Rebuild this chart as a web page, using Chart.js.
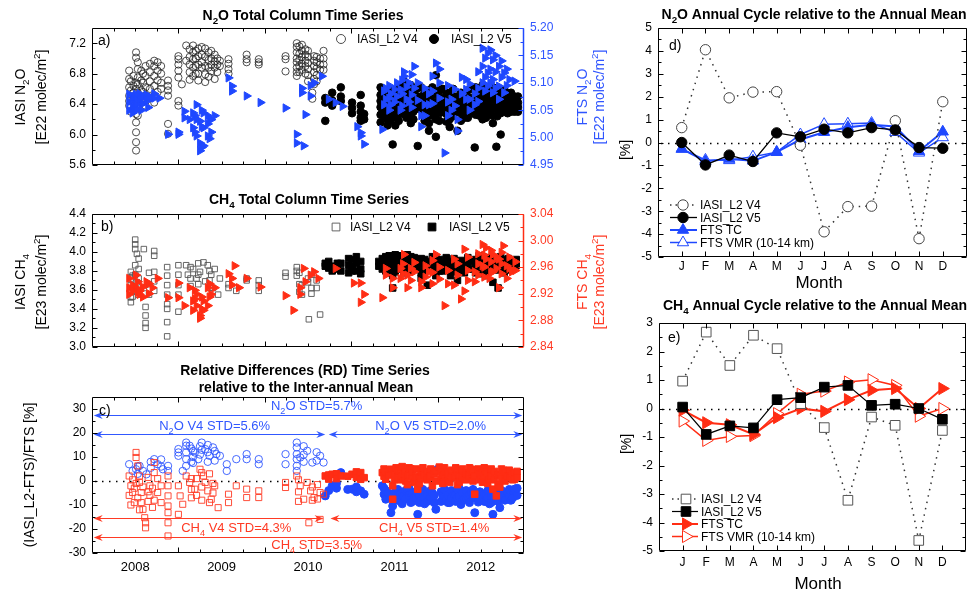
<!DOCTYPE html>
<html>
<head>
<meta charset="utf-8">
<title>IASI / FTS N2O and CH4</title>
<script src="https://cdn.jsdelivr.net/npm/chart.js@4.4.1/dist/chart.umd.min.js"></script>
<style>
  body { margin: 0; background: #fff; }
  #page { position: relative; width: 974px; height: 594px; overflow: hidden; }
  canvas { position: absolute; }
</style>
</head>
<body>
<div id="page">
  <canvas id="chartA" width="610" height="182" style="left:0;top:0"></canvas>
  <canvas id="chartB" width="610" height="178" style="left:0;top:182px"></canvas>
  <canvas id="chartC" width="610" height="234" style="left:0;top:360px"></canvas>
  <canvas id="chartD" width="384" height="295" style="left:590px;top:0"></canvas>
  <canvas id="chartE" width="384" height="299" style="left:590px;top:295px"></canvas>
</div>
<script>
// ---- data: each row is [decimal year, value, value, ...] ----
const iasiN2oV4 = [
  [2007.93, 6.84, 6.73, 6.62, 6.51, 6.44, 6.38], [2007.95, 6.70, 6.58, 6.47, 6.30],
  [2007.98, 6.77, 6.64, 6.55, 6.47, 6.33],
  [2008.01, 7.08, 7.01, 6.68, 6.60, 6.47, 6.38, 6.27, 6.16, 6.03, 5.90, 5.79],
  [2008.03, 6.95, 6.86, 6.75, 6.66, 6.55, 6.45, 6.35, 6.25],
  [2008.07, 6.84, 6.71, 6.58, 6.42], [2008.09, 6.80, 6.68, 6.56, 6.46], [2008.12, 6.90, 6.77, 6.62, 6.51, 6.38],
  [2008.17, 6.93, 6.82, 6.70, 6.60, 6.48],
  [2008.22, 6.97, 6.90, 6.77, 6.64, 6.51, 6.42], [2008.26, 6.95, 6.84, 6.71, 6.56], [2008.30, 6.90, 6.80, 6.68, 6.60],
  [2008.38, 6.71, 6.64, 6.58, 6.51, 6.14, 6.01], [2008.50, 7.03, 6.99, 6.92, 6.84, 6.75, 6.44, 6.38],
  [2008.54, 6.66], [2008.59, 7.17, 6.97], [2008.63, 7.12, 7.02, 6.92, 6.82, 6.72], [2008.67, 7.17, 7.08, 6.99, 6.88, 6.77],
  [2008.70, 7.10, 7.00, 6.90, 6.80],
  [2008.73, 7.13, 7.03, 6.92, 6.80, 6.71], [2008.77, 7.15, 7.05, 6.95, 6.88],
  [2008.81, 7.13, 7.02, 6.90, 6.79, 6.69], [2008.85, 7.08, 6.98, 6.88, 6.76], [2008.88, 7.10, 7.00, 6.92, 6.83],
  [2008.92, 7.05, 6.96, 6.88, 6.73], [2008.95, 7.00, 6.92, 6.82], [2008.98, 6.97, 6.90], [2009.08, 6.99, 6.93, 6.86, 6.80],
  [2009.29, 7.05, 6.99, 6.95], [2009.43, 6.99, 6.95, 6.92], [2009.74, 7.03, 6.99, 6.83],
  [2009.87, 7.20, 7.15, 7.08, 7.00, 6.95, 6.88, 6.82, 6.77], [2009.90, 7.16, 7.06, 6.98, 6.90, 6.82],
  [2009.93, 7.18, 7.10, 7.02, 6.93, 6.85],
  [2009.97, 7.12, 7.05, 6.97, 6.90, 6.80], [2010.00, 7.10, 7.02, 6.94, 6.86, 6.78, 6.70], [2010.05, 6.55, 6.47],
  [2010.07, 7.03, 6.97, 6.90, 6.82, 6.73, 6.66], [2010.10, 7.02, 6.95, 6.87, 6.78, 6.70], [2010.14, 7.00, 6.92, 6.85],
  [2010.18, 7.10, 7.00, 6.92, 6.85]
];
const iasiN2oV5 = [
  [2010.20, 6.48, 6.42, 6.18], [2010.28, 6.55, 6.45, 6.38], [2010.38, 6.62, 6.50, 6.44],
  [2010.51, 6.42, 6.35, 6.28], [2010.61, 6.52, 6.38, 6.30, 6.22, 6.18], [2010.65, 6.27, 6.20],
  [2010.84, 6.62, 6.52, 6.44, 6.36, 6.26, 6.16], [2010.86, 6.55, 6.45, 6.35, 6.28], [2010.88, 6.58, 6.48, 6.40, 6.32, 6.24],
  [2010.92, 6.50, 6.40, 6.30, 6.20, 6.12], [2010.95, 6.60, 6.50, 6.42, 6.34, 6.26, 6.18],
  [2010.98, 6.58, 6.45, 6.35, 6.22, 5.87], [2011.01, 6.55, 6.47, 6.39, 6.31, 6.23, 6.12], [2011.05, 6.60, 6.48, 6.38, 6.28, 6.18],
  [2011.08, 6.62, 6.52, 6.44, 6.36, 6.27],
  [2011.11, 6.70, 6.60, 6.50, 6.40, 6.30], [2011.14, 6.58, 6.48, 6.40, 6.32, 6.22], [2011.19, 6.65, 6.52, 6.42, 6.30, 6.25, 6.15],
  [2011.22, 6.56, 6.46, 6.38, 6.30, 6.20], [2011.26, 6.60, 6.50, 6.42, 6.34],
  [2011.27, 5.85], [2011.31, 6.62, 6.50, 6.40, 6.33], [2011.35, 6.55, 6.46, 6.37, 6.28, 6.18],
  [2011.40, 6.58, 6.45, 6.30, 6.25, 6.15, 6.05], [2011.44, 6.62, 6.52, 6.43, 6.35, 6.25],
  [2011.48, 6.78, 6.55, 6.42, 6.33, 6.20, 5.97], [2011.52, 6.58, 6.48, 6.38, 6.28, 6.18], [2011.56, 6.60, 6.48, 6.40, 6.30],
  [2011.60, 6.55, 6.45, 6.36, 6.27, 6.17],
  [2011.64, 6.55, 6.45, 6.35, 6.28, 6.20, 6.10], [2011.68, 6.60, 6.50, 6.40, 6.32, 6.24], [2011.73, 6.50, 6.40, 6.30, 6.05],
  [2011.77, 6.55, 6.46, 6.37, 6.28, 6.18],
  [2011.81, 6.45, 6.35, 6.30, 6.22], [2011.85, 6.58, 6.48, 6.40, 6.31, 6.22], [2011.89, 6.60, 6.48, 6.38, 6.28], [2011.93, 5.83],
  [2011.94, 6.62, 6.52, 6.43, 6.35, 6.26],
  [2011.98, 6.55, 6.45, 6.35, 6.25], [2012.02, 6.65, 6.55, 6.46, 6.38, 6.30, 6.20], [2012.06, 6.60, 6.50, 6.40, 6.32, 6.22],
  [2012.10, 6.62, 6.52, 6.44, 6.36, 6.27],
  [2012.14, 6.62, 6.55, 6.45, 6.35, 6.25, 6.15], [2012.18, 5.84], [2012.19, 6.60, 6.50, 6.42, 6.33, 6.24],
  [2012.23, 6.58, 6.48, 6.38, 6.28, 6.00], [2012.27, 6.58, 6.48, 6.40, 6.32], [2012.31, 6.55, 6.45, 6.35, 6.28],
  [2012.35, 6.55, 6.46, 6.38, 6.30],
  [2012.39, 6.50, 6.42, 6.35, 6.30], [2012.43, 6.50, 6.42, 6.36, 6.30]
];
const ftsN2o = [
  [2007.93, 5.079, 5.065, 5.050], [2007.97, 5.070, 5.057, 5.045], [2007.99, 5.075, 5.055], [2008.01, 5.079, 5.070, 5.060, 5.050],
  [2008.05, 5.080, 5.065], [2008.07, 5.072, 5.050], [2008.09, 5.075, 5.062], [2008.13, 5.078, 5.070], [2008.15, 5.068, 5.055],
  [2008.17, 5.075],
  [2008.22, 5.080, 5.072], [2008.28, 5.072], [2008.38, 5.006], [2008.50, 5.006, 5.010],
  [2008.57, 5.036, 5.048], [2008.63, 5.033], [2008.67, 5.045, 5.018], [2008.69, 5.040, 5.010], [2008.71, 5.060, 5.033, 5.003],
  [2008.75, 5.030, 4.990, 4.976], [2008.77, 5.050, 5.020, 4.982], [2008.79, 5.045, 5.018, 4.985], [2008.84, 5.040, 5.025, 5.003],
  [2008.86, 5.035, 4.998],
  [2008.88, 5.033, 5.010], [2008.92, 5.040], [2009.08, 5.109], [2009.12, 5.094, 5.085],
  [2009.29, 5.076], [2009.45, 5.064], [2009.74, 5.054], [2009.87, 5.006, 4.990], [2009.95, 4.985],
  [2009.97, 5.042], [2009.93, 5.090, 5.082], [2010.03, 5.076, 5.095], [2010.07, 5.100],
  [2010.16, 5.112], [2010.24, 5.070], [2010.32, 5.064], [2010.40, 5.057], [2010.57, 5.020],
  [2010.61, 5.009, 5.003], [2010.65, 4.988], [2010.86, 5.015], [2010.88, 5.085, 5.060], [2010.90, 5.090, 5.070],
  [2010.94, 5.095, 5.072, 5.050],
  [2010.96, 5.080, 5.060], [2011.00, 5.088, 5.065], [2011.03, 5.100, 5.075], [2011.07, 5.088, 5.050],
  [2011.09, 5.105, 5.080, 5.058], [2011.11, 5.112, 5.120], [2011.14, 5.092, 5.070],
  [2011.17, 5.100, 5.065], [2011.20, 5.115, 5.078, 5.055], [2011.23, 5.130, 5.090], [2011.27, 5.100, 5.068],
  [2011.31, 5.040, 5.020], [2011.35, 5.090, 5.060, 5.040], [2011.40, 5.080, 5.060], [2011.44, 5.112, 5.085, 5.062],
  [2011.48, 5.136], [2011.52, 5.125, 5.100, 5.072], [2011.58, 4.972], [2011.62, 5.095, 5.065, 5.040],
  [2011.66, 5.070, 5.050], [2011.70, 5.088, 5.058], [2011.73, 5.033, 5.012], [2011.78, 5.110, 5.080],
  [2011.83, 5.106, 5.088, 5.070], [2011.87, 5.098, 5.070, 5.050], [2011.93, 5.080, 5.060], [2011.97, 5.120, 5.090, 5.066],
  [2012.02, 5.163, 5.130, 5.100], [2012.05, 5.145, 5.110, 5.085],
  [2012.08, 5.154, 5.118, 5.094], [2012.11, 5.160, 5.125, 5.100], [2012.14, 5.142, 5.106, 5.082],
  [2012.17, 5.150, 5.120, 5.090], [2012.21, 5.130, 5.094, 5.070], [2012.24, 5.140, 5.110],
  [2012.27, 5.118, 5.082], [2012.30, 5.125, 5.095], [2012.33, 5.106], [2012.39, 5.103]
];
const iasiCh4V4 = [
  [2007.95, 3.79, 3.72, 3.65, 3.59, 3.52, 3.47], [2007.97, 3.75, 3.62, 3.53], [2008.00, 4.13, 4.08, 4.03, 3.86, 3.76, 3.62],
  [2008.02, 3.98, 3.68, 3.58],
  [2008.04, 3.93, 3.82, 3.72, 3.55], [2008.10, 4.03, 3.62], [2008.12, 3.42, 3.33, 3.25, 3.20], [2008.16, 3.78, 3.66, 3.55],
  [2008.22, 4.01, 3.96, 3.79, 3.69, 3.59], [2008.37, 3.84, 3.75, 3.65, 3.55, 3.45, 3.40, 3.26, 3.11],
  [2008.50, 3.86, 3.76, 3.65, 3.55, 3.37], [2008.59, 3.86], [2008.61, 3.76], [2008.64, 3.84, 3.72, 3.64], [2008.67, 3.82],
  [2008.71, 3.72], [2008.73, 3.88, 3.76, 3.66], [2008.75, 3.79], [2008.79, 3.89], [2008.81, 3.69], [2008.84, 3.86],
  [2008.86, 3.80, 3.70, 3.62],
  [2008.88, 3.76], [2008.90, 3.62], [2008.92, 3.82], [2008.96, 3.55], [2008.98, 3.72],
  [2009.08, 3.66, 3.62], [2009.17, 3.59], [2009.29, 3.70, 3.72], [2009.43, 3.70, 3.65, 3.59],
  [2009.74, 3.78, 3.74], [2009.87, 3.84, 3.80, 3.75], [2009.90, 3.78, 3.66, 3.58], [2009.93, 3.65, 3.55],
  [2010.00, 3.68, 3.72], [2010.01, 3.29], [2010.04, 3.76, 3.62, 3.56], [2010.10, 3.62, 3.70], [2010.14, 3.34]
];
const iasiCh4V5 = [
  [2010.20, 3.88, 3.85], [2010.24, 3.90, 3.83], [2010.28, 3.85, 3.80], [2010.34, 3.88, 3.82], [2010.38, 3.88, 3.80],
  [2010.47, 3.93, 3.86, 3.78], [2010.51, 3.92, 3.85, 3.80], [2010.56, 3.95, 3.88, 3.80],
  [2010.61, 3.90, 3.82, 3.77], [2010.82, 3.90, 3.85], [2010.86, 3.93, 3.87, 3.82], [2010.90, 3.95, 3.88, 3.80],
  [2010.94, 3.96, 3.90, 3.84, 3.78],
  [2010.98, 3.92, 3.85, 3.75, 3.62], [2011.01, 3.97, 3.91, 3.85, 3.79], [2011.05, 3.95, 3.90, 3.82],
  [2011.08, 3.96, 3.90, 3.84], [2011.11, 3.93, 3.85, 3.78], [2011.15, 3.97, 3.92, 3.86, 3.80],
  [2011.19, 3.95, 3.88, 3.80], [2011.23, 3.94, 3.88, 3.82], [2011.27, 3.90, 3.83], [2011.31, 3.93, 3.88, 3.78, 3.72],
  [2011.35, 3.92, 3.86, 3.80], [2011.38, 3.65],
  [2011.40, 3.90, 3.83], [2011.44, 3.95, 3.89, 3.83], [2011.48, 3.93, 3.85, 3.75], [2011.52, 3.92, 3.86, 3.80],
  [2011.56, 3.88, 3.80], [2011.60, 3.94, 3.88, 3.82], [2011.65, 3.90, 3.85, 3.75], [2011.69, 3.93, 3.86, 3.79],
  [2011.73, 3.88, 3.80, 3.70], [2011.77, 3.91, 3.85, 3.80], [2011.81, 3.85, 3.78], [2011.85, 3.94, 3.88, 3.82],
  [2011.89, 3.90, 3.82], [2011.94, 3.92, 3.86, 3.78], [2011.98, 3.96, 3.88, 3.80],
  [2012.02, 3.95, 3.89, 3.83, 3.77], [2012.06, 3.93, 3.85, 3.75], [2012.10, 3.94, 3.88, 3.80],
  [2012.14, 3.90, 3.82, 3.68], [2012.18, 3.93, 3.87, 3.81], [2012.20, 3.62], [2012.23, 3.95, 3.89, 3.83],
  [2012.27, 3.92, 3.85, 3.78], [2012.32, 3.93, 3.87, 3.81], [2012.37, 3.90, 3.85], [2012.41, 3.92, 3.86]
];
const ftsCh4 = [
  [2007.93, 2.943, 2.929, 2.919], [2007.97, 2.933, 2.924], [2008.01, 2.948, 2.929], [2008.03, 2.938, 2.922],
  [2008.05, 2.924, 2.919], [2008.09, 2.930, 2.915],
  [2008.13, 2.938], [2008.16, 2.935, 2.920], [2008.20, 2.929], [2008.26, 2.943], [2008.38, 2.914], [2008.50, 2.914, 2.936],
  [2008.57, 2.902], [2008.63, 2.929], [2008.67, 2.909, 2.895], [2008.69, 2.925, 2.912], [2008.71, 2.919, 2.902],
  [2008.75, 2.887, 2.883], [2008.77, 2.915, 2.897], [2008.79, 2.895, 2.909], [2008.84, 2.929, 2.902],
  [2008.86, 2.935, 2.915], [2008.88, 2.919],
  [2008.92, 2.929], [2009.08, 2.950], [2009.12, 2.943, 2.933], [2009.15, 2.962], [2009.20, 2.929],
  [2009.29, 2.943], [2009.45, 2.930], [2009.74, 2.917], [2009.83, 2.895], [2009.91, 2.929, 2.919],
  [2009.95, 2.958], [2009.97, 2.938], [2010.03, 2.948], [2010.07, 2.953], [2010.12, 2.943],
  [2010.32, 2.958], [2010.53, 2.936], [2010.61, 2.936, 2.907], [2010.65, 2.919], [2010.86, 2.914],
  [2010.90, 2.958, 2.948], [2010.98, 2.943, 2.929], [2011.07, 2.958, 2.943], [2011.10, 2.965, 2.950], [2011.11, 2.979],
  [2011.15, 2.948, 2.929], [2011.19, 2.958, 2.940], [2011.23, 2.967, 2.953], [2011.31, 2.938, 2.929],
  [2011.36, 2.962, 2.945], [2011.40, 2.953], [2011.44, 2.970, 2.952, 2.935],
  [2011.48, 2.979], [2011.52, 2.960, 2.942], [2011.58, 2.902], [2011.62, 2.955, 2.935], [2011.69, 2.972, 2.933],
  [2011.73, 2.965, 2.948], [2011.77, 2.912], [2011.81, 2.987, 2.924], [2011.85, 2.975, 2.955, 2.940],
  [2011.93, 2.953, 2.938], [2011.97, 2.980, 2.965, 2.948], [2012.02, 2.994, 2.962], [2012.04, 2.978, 2.960, 2.945],
  [2012.06, 2.989, 2.972], [2012.10, 2.943], [2012.12, 2.985, 2.968, 2.952],
  [2012.14, 2.979, 2.953], [2012.18, 2.975, 2.958], [2012.21, 2.972, 2.929], [2012.24, 2.982, 2.965, 2.950],
  [2012.26, 2.992], [2012.30, 2.962, 2.943], [2012.33, 2.975, 2.958], [2012.36, 2.953], [2012.40, 2.968, 2.955]
];
const rdN2oV4 = [
  [2007.93, 7.0], [2007.97, 4.2], [2008.01, 4.9], [2008.03, 6.0, 3.0], [2008.05, 6.3], [2008.09, 4.2], [2008.13, 2.8],
  [2008.18, 8.0, 5.5],
  [2008.22, 9.1], [2008.26, 7.0], [2008.30, 9.0, 6.0], [2008.32, 4.9], [2008.38, 6.3, 4.2], [2008.50, 13.3, 11.9, 10.5],
  [2008.55, 4.2], [2008.59, 16.0, 14.7, 11.9, 9.1, 6.3], [2008.63, 14.7], [2008.65, 13.5, 8.0], [2008.67, 12.5, 10.0, 7.5],
  [2008.69, 11.9], [2008.73, 9.1], [2008.75, 14.5, 11.0], [2008.77, 16.0, 13.0], [2008.81, 13.3], [2008.84, 15.0, 12.0, 8.0],
  [2008.86, 10.5], [2008.90, 14.0], [2008.92, 12.5, 8.5], [2008.94, 11.2], [2008.98, 10.5], [2009.06, 7.0, 4.2], [2009.17, 9.1],
  [2009.29, 11.2, 9.1], [2009.43, 9.1, 7.0], [2009.74, 11.2, 7.0], [2009.87, 16.0, 14.0, 11.2, 9.1, 6.3, 4.2],
  [2009.91, 9.8], [2009.95, 14.5, 11.0, 8.0], [2009.99, 12.6], [2010.05, 7.7], [2010.10, 12.0, 8.5], [2010.14, 10.5],
  [2010.18, 7.7]
];
const rdN2oV5 = [
  [2010.20, -6.2], [2010.24, -4.0], [2010.28, -2.0], [2010.33, -3.0, -1.0], [2010.38, 3.5], [2010.46, -3.5],
  [2010.51, -3.4], [2010.56, -4.5, -2.5], [2010.61, -4.1], [2010.65, -5.5],
  [2010.86, -2.0], [2010.88, -5.5, -3.0], [2010.90, -7.6, -4.0], [2010.93, -5.0], [2010.96, -13.2], [2010.98, -10.4],
  [2011.00, -8.0, -5.0], [2011.02, -4.8], [2011.04, -7.0, -3.5], [2011.07, -8.5, -5.5], [2011.09, -9.5, -5.0],
  [2011.11, -6.2], [2011.13, -7.5, -4.0], [2011.15, -3.5], [2011.17, -6.0, -3.0], [2011.19, -9.0, -5.0],
  [2011.21, -8.5, -5.0], [2011.23, -6.8], [2011.25, -7.0, -4.5], [2011.27, -13.9], [2011.29, -9.0, -6.0],
  [2011.31, -4.1, -8.0], [2011.33, -6.5, -3.5], [2011.35, -9.5], [2011.38, -8.5, -5.5], [2011.40, -7.6],
  [2011.42, -7.0, -4.0], [2011.44, -5.0], [2011.46, -9.0, -6.0], [2011.48, -11.8], [2011.50, 4.9],
  [2011.54, -8.5, -4.5], [2011.56, -6.2], [2011.58, -6.5, -3.5], [2011.60, -8.0], [2011.62, -9.0, -6.0],
  [2011.64, -9.0], [2011.66, -7.0, -4.0], [2011.69, -5.5], [2011.71, -8.5, -5.5], [2011.73, -3.4, -7.0],
  [2011.75, -6.5, -3.0], [2011.77, -9.8], [2011.79, -8.0, -5.0], [2011.81, -7.6], [2011.83, -7.0, -4.0],
  [2011.85, -6.5], [2011.87, -9.0, -5.5], [2011.89, -4.8], [2011.91, -7.0, -3.5], [2011.93, -13.2],
  [2011.97, -8.8], [2011.99, -7.5, -4.5], [2012.02, -6.2], [2012.04, -8.5, -5.5], [2012.06, -5.2, -8.5],
  [2012.08, -7.0, -4.0], [2012.10, -9.5], [2012.12, -9.0, -6.0], [2012.14, -13.9], [2012.16, -7.5, -4.5],
  [2012.18, -7.6], [2012.20, -8.5, -5.5], [2012.22, -11.1], [2012.24, -7.0, -4.0], [2012.26, -6.0],
  [2012.28, -8.0, -5.0], [2012.31, -4.8], [2012.33, -6.5, -3.5], [2012.35, -8.0], [2012.37, -7.0, -4.0],
  [2012.39, -3.4], [2012.42, -6.0, -3.0]
];
const rdCh4V4 = [
  [2007.93, 2.1, -6.0], [2007.95, -2.0, -10.0], [2007.97, -4.8, 0.5], [2007.99, -9.0, -3.0],
  [2008.01, 11.9, 9.8, -1.0], [2008.03, 6.3, -7.0], [2008.05, 2.1, -0.6, -12.0], [2008.07, -4.8, -9.0],
  [2008.09, -11.8, -2.5], [2008.11, -15.3], [2008.12, -19.5, -17.4], [2008.15, 1.5, -4.5, -8.5], [2008.17, -2.0, -6.0],
  [2008.20, -3.0, -11.0],
  [2008.22, 7.7, 3.5, -8.0], [2008.26, -4.8, 1.0], [2008.30, -2.0, -9.0],
  [2008.38, 2.1, -2.0, -6.2, -10.4, -13.2, -17.4, -22.9], [2008.50, -2.0, -13.9], [2008.52, -6.2],
  [2008.55, -9.7], [2008.59, 2.1], [2008.63, -0.6], [2008.65, 1.0, -3.5, -7.0], [2008.69, -3.4], [2008.71, 1.0, -6.0],
  [2008.75, 4.9], [2008.77, 3.5, -2.5, -8.0],
  [2008.79, 2.1], [2008.81, -0.6], [2008.84, -4.1], [2008.86, 3.0, -9.0], [2008.88, -7.6], [2008.90, -1.0, -5.0],
  [2008.92, -2.0],
  [2008.96, -11.1], [2009.08, -5.5, -9.0], [2009.17, -2.0], [2009.29, -3.4, -6.9], [2009.43, -4.1, -6.9],
  [2009.74, -0.6, -2.7], [2009.87, 2.1], [2009.89, 0.5, -4.5, -8.5], [2009.91, -2.0], [2009.95, -7.6], [2009.99, -0.6],
  [2010.01, -17.4], [2010.03, -4.1], [2010.05, -2.5, -8.0], [2010.07, -6.9], [2010.11, -1.5, -7.5],
  [2010.14, -4.8, -16.0], [2010.18, -5.5]
];
const rdCh4V5 = [
  [2010.20, 2.1], [2010.24, 2.5, 0.8], [2010.28, 2.8], [2010.33, 3.0, 1.0], [2010.38, 2.1], [2010.46, 2.0],
  [2010.51, 2.8], [2010.56, 3.8, 1.5], [2010.61, 3.5, 0.7], [2010.65, 1.4],
  [2010.86, 3.5], [2010.88, 5.0, 2.0], [2010.90, 0.7, 4.0], [2010.93, 2.5], [2010.96, 4.9], [2010.98, -2.0, -7.6],
  [2011.00, 3.0, 0.5], [2011.02, 5.5], [2011.04, 4.5, 1.5], [2011.07, 4.2, 0.5], [2011.09, 6.0, 2.0], [2011.11, 3.0],
  [2011.13, 4.0, 0.0], [2011.15, 2.1, -1.5], [2011.17, 5.5, 2.5], [2011.19, 5.0], [2011.21, 3.5, 1.0], [2011.23, -0.6],
  [2011.25, 5.0, 1.5], [2011.27, -3.4], [2011.29, 2.0, -1.0], [2011.31, 4.2, 1.0], [2011.33, 5.5], [2011.35, 2.5],
  [2011.38, 4.0, 0.5], [2011.40, 1.4], [2011.42, 5.0, 2.0], [2011.44, -2.0], [2011.46, 3.0], [2011.48, 4.2, 0.0],
  [2011.52, 5.8], [2011.54, 4.0, 1.0], [2011.56, 2.1, -1.0], [2011.58, 5.5, 2.5], [2011.60, 3.8], [2011.62, 3.0, 0.0],
  [2011.64, -0.6], [2011.66, 4.5, 1.5], [2011.69, 1.5], [2011.71, 5.5, 2.0], [2011.73, 3.5, -1.5], [2011.75, 2.5, -0.5],
  [2011.77, 4.5], [2011.79, 5.0, 1.5], [2011.81, 0.7], [2011.83, 3.5, 0.5], [2011.85, 2.8], [2011.87, 5.5, 2.0],
  [2011.89, 4.9, 1.0], [2011.91, 4.0, 0.0], [2011.93, 2.1, -5.5], [2011.97, 5.0], [2011.99, 3.0, 0.5],
  [2012.02, 3.5, -0.5], [2012.04, 5.5, 2.0], [2012.06, 4.0], [2012.08, 3.0, -1.0], [2012.10, 0.7], [2012.12, 5.0, 2.0],
  [2012.14, -3.4], [2012.16, 4.0, 0.5], [2012.18, -6.2], [2012.20, 2.5, -1.5], [2012.22, 2.8, -2.5],
  [2012.24, 5.0, 1.0], [2012.26, 4.5], [2012.28, 3.5, 0.0], [2012.31, 2.1], [2012.33, 4.5, 2.0], [2012.35, 1.5],
  [2012.37, 3.0, 0.5], [2012.39, 3.5, 0.7], [2012.42, 4.0, 1.5]
];

const months = ['J', 'F', 'M', 'A', 'M', 'J', 'J', 'A', 'S', 'O', 'N', 'D'];
const n2oCycleV4 = [0.65, 4.05, 1.95, 2.2, 2.22, -0.12, -3.9, -2.8, -2.78, 0.95, -4.2, 1.78];
const n2oCycleV5 = [0.0, -0.98, -0.55, -0.83, 0.42, 0.25, 0.58, 0.42, 0.65, 0.55, -0.22, -0.25];
const n2oCycleFtsTc = [-0.28, -0.82, -0.72, -0.8, -0.42, 0.13, 0.45, 0.67, 0.78, 0.7, -0.38, 0.47];
const n2oCycleFtsVmr = [-0.28, -0.76, -0.78, -0.62, -0.42, 0.35, 0.8, 0.82, 0.85, 0.45, -0.45, 0.22];
const ch4CycleV4 = [0.96, 2.68, 1.51, 2.57, 2.1, 0.17, -0.67, -3.22, -0.3, -0.59, -4.63, -0.77];
const ch4CycleV5 = [0.05, -0.91, -0.61, -0.68, 0.31, 0.38, 0.75, 0.81, 0.11, 0.15, 0.0, -0.38];
const ch4CycleFtsTc = [-0.06, -0.5, -0.57, -0.91, -0.32, 0.0, -0.1, 0.31, 0.64, 0.7, 0.0, 0.7];
const ch4CycleFtsVmr = [-0.44, -1.12, -0.98, -0.95, -0.18, 0.5, 0.61, 0.93, 1.01, 0.81, -0.27, 0.0];

// tick values
const yearTicks = [2008, 2009, 2010, 2011, 2012];
const halfYearTicks = [2008.5, 2009.5, 2010.5, 2011.5];
const quarterTicks = [2007.75, 2008, 2008.25, 2008.75, 2009, 2009.25, 2009.75, 2010, 2010.25,
  2010.75, 2011, 2011.25, 2011.75, 2012, 2012.25];
const n2oColTicks = [5.6, 6.0, 6.4, 6.8, 7.2];
const n2oColMinor = [5.8, 6.2, 6.6, 7.0];
const ftsN2oTicks = [4.95, 5.00, 5.05, 5.10, 5.15, 5.20];
const ftsN2oMinor = [4.975, 5.025, 5.075, 5.125, 5.175];
const ch4ColTicks = [3.0, 3.2, 3.4, 3.6, 3.8, 4.0, 4.2, 4.4];
const ch4ColMinor = [3.1, 3.3, 3.5, 3.7, 3.9, 4.1, 4.3];
const ftsCh4Ticks = [2.84, 2.88, 2.92, 2.96, 3.00, 3.04];
const ftsCh4Minor = [2.86, 2.90, 2.94, 2.98, 3.02];
const rdTicks = [-30, -20, -10, 0, 10, 20, 30];
const rdMinor = [-25, -15, -5, 5, 15, 25];
const monthTicks = [1, 2, 3, 4, 5, 6, 7, 8, 9, 10, 11, 12];
const n2oCycleTicks = [-5, -4, -3, -2, -1, 0, 1, 2, 3, 4, 5];
const ch4CycleTicks = [-5, -4, -3, -2, -1, 0, 1, 2, 3];
const halfSteps = (t) => t.slice(1).map(v => v - 0.5);

const FONT = "'Liberation Sans', Arial, Helvetica, sans-serif";
const BLUE = '#1f48ff', RED = '#ff2d14', TBLUE = '#3158ff', TRED = '#ff3a24';

Chart.defaults.font.family = FONT;
Chart.defaults.font.size = 12;
Chart.defaults.color = '#000';
Chart.defaults.animation = false;
Chart.defaults.responsive = false;
Chart.defaults.events = [];
Chart.defaults.plugins.legend.display = false;
Chart.defaults.plugins.tooltip.enabled = false;

const cols = rows => rows.flatMap(([t, ...vs]) => vs.map(v => ({ x: t, y: v })));
const byMonth = vals => vals.map((v, i) => ({ x: i + 1, y: v }));

// draws text with _{sub} and ^{sup} parts, y is the vertical middle
function richText(ctx, str, x, y, o) {
  const size = o.size || 12, wt = o.bold ? 'bold ' : '';
  const segs = [];
  const re = /([_^])\{([^}]*)\}/g;
  let last = 0, m;
  while ((m = re.exec(str))) {
    if (m.index > last) segs.push({ t: str.slice(last, m.index), k: '' });
    segs.push({ t: m[2], k: m[1] });
    last = re.lastIndex;
  }
  if (last < str.length) segs.push({ t: str.slice(last), k: '' });
  ctx.save();
  ctx.translate(x, y);
  if (o.rot) ctx.rotate(o.rot);
  ctx.fillStyle = o.color || '#000';
  ctx.textBaseline = 'alphabetic';
  ctx.textAlign = 'left';
  let total = 0;
  segs.forEach(s => {
    s.size = s.k ? size * 0.7 : size;
    ctx.font = wt + s.size + 'px ' + FONT;
    s.w = ctx.measureText(s.t).width;
    total += s.w;
  });
  let cx = o.align === 'left' ? 0 : o.align === 'right' ? -total : -total / 2;
  segs.forEach(s => {
    ctx.font = wt + s.size + 'px ' + FONT;
    const dy = s.k === '_' ? size * 0.28 : s.k === '^' ? -size * 0.42 : 0;
    ctx.fillText(s.t, cx, size * 0.36 + dy);
    cx += s.w;
  });
  ctx.restore();
}

function marker(ctx, m, x, y) {
  ctx.save();
  ctx.translate(x, y);
  ctx.rotate((m.rot || 0) * Math.PI / 180);
  ctx.beginPath();
  const r = m.r;
  if (m.shape === 'circle') ctx.arc(0, 0, r, 0, 2 * Math.PI);
  else if (m.shape === 'rect') { const h = r * Math.SQRT1_2; ctx.rect(-h, -h, 2 * h, 2 * h); }
  else {
    for (let i = 0; i < 3; i++) {
      const a = i * 2 * Math.PI / 3;
      if (i) ctx.lineTo(Math.sin(a) * r, -Math.cos(a) * r); else ctx.moveTo(Math.sin(a) * r, -Math.cos(a) * r);
    }
    ctx.closePath();
  }
  ctx.fillStyle = m.fill;
  ctx.fill();
  ctx.lineWidth = m.bw || 1;
  ctx.strokeStyle = m.stroke;
  ctx.stroke();
  ctx.restore();
}

const originStyle = {
  id: 'originStyle',
  beforeDatasetsDraw(chart, args, o) {
    if (!o.zero) return;
    const ctx = chart.ctx, a = chart.chartArea;
    const y = Math.round(chart.scales.y.getPixelForValue(0)) + 0.5;
    ctx.save();
    ctx.strokeStyle = '#000';
    ctx.lineWidth = 1.5;
    ctx.setLineDash([1.5, 5.5]);
    ctx.beginPath(); ctx.moveTo(a.left + 3, y); ctx.lineTo(a.right, y); ctx.stroke();
    ctx.restore();
  },
  afterDatasetsDraw(chart, args, o) {
    const ctx = chart.ctx, a = chart.chartArea;
    const sx = chart.scales.x, sy = chart.scales.y, s2 = chart.scales.y2;
    const seg = (x1, y1, x2, y2) => { ctx.beginPath(); ctx.moveTo(x1, y1); ctx.lineTo(x2, y2); ctx.stroke(); };
    ctx.save();
    (o.arrows || []).forEach(ar => {
      const p1 = sx.getPixelForValue(ar.x1), p2 = sx.getPixelForValue(ar.x2), py = Math.round(sy.getPixelForValue(ar.y)) + 0.5;
      ctx.strokeStyle = ar.color; ctx.fillStyle = ar.color; ctx.lineWidth = 1.2;
      seg(p1 + 4, py, p2 - 4, py);
      [[p1, 1], [p2, -1]].forEach(([x, d]) => {
        ctx.beginPath(); ctx.moveTo(x, py); ctx.lineTo(x + d * 9, py - 3.5); ctx.lineTo(x + d * 6, py);
        ctx.lineTo(x + d * 9, py + 3.5); ctx.closePath(); ctx.fill();
      });
    });
    const L = Math.round(a.left) + 0.5, R = Math.round(a.right) - 0.5, T = Math.round(a.top) + 0.5, B = Math.round(a.bottom) - 0.5;
    ctx.lineWidth = 1;
    ctx.strokeStyle = '#000';
    ctx.beginPath(); ctx.moveTo(R, T); ctx.lineTo(L, T); ctx.lineTo(L, B); ctx.lineTo(R, B); ctx.stroke();
    [[o.xMajor, 5], [o.xMinor, 3]].forEach(([vals, len]) => (vals || []).forEach(v => {
      const p = Math.round(sx.getPixelForValue(v)) + 0.5;
      seg(p, B, p, B - len); seg(p, T, p, T + len);
    }));
    [[o.yMajor, 5], [o.yMinor, 3]].forEach(([vals, len]) => (vals || []).forEach(v => {
      const p = Math.round(sy.getPixelForValue(v)) + 0.5;
      seg(L, p, L + len, p);
      if (!s2) seg(R, p, R - len, p);
    }));
    ctx.strokeStyle = o.rightColor || '#000';
    ctx.lineWidth = o.rightColor ? 1.5 : 1;
    seg(R, T, R, B);
    ctx.lineWidth = 1;
    if (s2) {
      [[o.y2Major, 5], [o.y2Minor, 3]].forEach(([vals, len]) => (vals || []).forEach(v => {
        const p = Math.round(s2.getPixelForValue(v)) + 0.5;
        seg(R, p, R - len, p);
      }));
    }
    ctx.restore();
  },
  afterDraw(chart, args, o) {
    const ctx = chart.ctx, [bx, by] = o.box || [0, 0];
    (o.texts || []).forEach(t => {
      let x = t.x - bx, y = t.y - by;
      if (t.vx !== undefined) { x = chart.scales.x.getPixelForValue(t.vx); y = chart.scales.y.getPixelForValue(t.vy); }
      richText(ctx, t.t, x, y, t);
    });
    (o.legend || []).forEach(l => {
      if (l.line) {
        ctx.save();
        ctx.strokeStyle = l.line.color; ctx.lineWidth = l.line.width;
        if (l.line.dash) ctx.setLineDash(l.line.dash);
        ctx.beginPath(); ctx.moveTo(l.line.x1 - bx, l.y - by); ctx.lineTo(l.line.x2 - bx, l.y - by); ctx.stroke();
        ctx.restore();
      }
      marker(ctx, l.m, l.x - bx, l.y - by);
      richText(ctx, l.text, l.tx - bx, l.y - by, { size: 12, align: 'left' });
    });
  }
};
Chart.register(originStyle);

function axisX(min, max, ticks, fmt, height, pad, size) {
  return {
    type: 'linear', position: 'bottom', min, max,
    afterBuildTicks: s => { s.ticks = ticks.map(v => ({ value: v })); },
    afterFit: s => { s.height = height; },
    grid: { display: false, drawTicks: false }, border: { display: false },
    ticks: { display: !!fmt, callback: fmt, padding: pad, maxRotation: 0, autoSkip: false, font: { size: size || 12 } }
  };
}
function axisY(min, max, ticks, fmt, width, pos, color) {
  return {
    type: 'linear', position: pos, min, max,
    afterBuildTicks: s => { s.ticks = ticks.map(v => ({ value: v })); },
    afterFit: s => { s.width = width; },
    grid: { display: false, drawTicks: false }, border: { display: false },
    ticks: { callback: fmt, padding: 6, color: color || '#000', autoSkip: false, font: { size: 12 } }
  };
}
function ds(data, m, extra) {
  return Object.assign({
    data, pointStyle: m.shape, pointRadius: m.r, pointRotation: m.rot || 0,
    pointBackgroundColor: m.fill, pointBorderColor: m.stroke, pointBorderWidth: m.bw || 1
  }, extra || {});
}
const f1 = v => v.toFixed(1), f2 = v => v.toFixed(2), fi = v => String(v);

// marker styles
const mOpenCircle = { shape: 'circle', r: 3.6, fill: 'rgba(0,0,0,0)', stroke: '#222', bw: 0.8 };
const mBlackCircle = { shape: 'circle', r: 3.8, fill: '#000', stroke: '#000' };
const mBlueTri = { shape: 'triangle', r: 4.8, rot: 90, fill: BLUE, stroke: BLUE };
const mOpenSquare = { shape: 'rect', r: 3.9, fill: 'rgba(0,0,0,0)', stroke: '#555', bw: 0.9 };
const mBlackSquare = { shape: 'rect', r: 4.6, fill: '#000', stroke: '#000' };
const mRedTri = { shape: 'triangle', r: 4.8, rot: 90, fill: RED, stroke: RED };
const mRdBlueOpen = { shape: 'circle', r: 3.7, fill: 'rgba(0,0,0,0)', stroke: '#3158ff', bw: 0.9 };
const mRdBlue = { shape: 'circle', r: 4.0, fill: BLUE, stroke: BLUE };
const mRdRedOpen = { shape: 'rect', r: 4.3, fill: 'rgba(0,0,0,0)', stroke: '#ff3a24', bw: 0.9 };
const mRdRed = { shape: 'rect', r: 4.6, fill: RED, stroke: RED };

// ---- a) N2O total column ----
new Chart(document.getElementById('chartA'), {
  type: 'scatter',
  data: { datasets: [
    ds(cols(ftsN2o), mBlueTri, { yAxisID: 'y2' }),
    ds(cols(iasiN2oV5), mBlackCircle),
    ds(cols(iasiN2oV4), mOpenCircle)
  ] },
  options: {
    layout: { padding: { top: 28, left: 0, right: 0, bottom: 0 } },
    scales: {
      x: axisX(2007.5, 2012.5, yearTicks, null, 17, 0),
      y: axisY(5.6, 7.4, n2oColTicks, f1, 92, 'left'),
      y2: axisY(4.95, 5.20, ftsN2oTicks, f2, 86, 'right', '#2f55ff')
    },
    plugins: { originStyle: {
      box: [0, 0], rightColor: BLUE,
      xMajor: halfYearTicks, xMinor: quarterTicks, yMajor: n2oColTicks, yMinor: n2oColMinor,
      y2Major: ftsN2oTicks, y2Minor: ftsN2oMinor,
      texts: [
        { t: 'N_{2}O Total Column Time Series', x: 303, y: 15, size: 14, bold: true },
        { t: 'a)', x: 98, y: 40, size: 14, align: 'left' },
        { t: 'IASI N_{2}O', x: 20, y: 97, size: 14, rot: -Math.PI / 2 },
        { t: '[E22 molec/m^{2}]', x: 41, y: 97, size: 14, rot: -Math.PI / 2 },
        { t: 'FTS N_{2}O', x: 582, y: 97, size: 14, rot: -Math.PI / 2, color: '#2f55ff' },
        { t: '[E22 molec/m^{2}]', x: 599, y: 97, size: 14, rot: -Math.PI / 2, color: '#2f55ff' }
      ],
      legend: [
        { x: 341, y: 39, m: Object.assign({}, mOpenCircle, { r: 4.5 }), text: 'IASI_L2 V4', tx: 357 },
        { x: 434, y: 39, m: Object.assign({}, mBlackCircle, { r: 4.5 }), text: 'IASI_L2 V5', tx: 451 }
      ]
    } }
  }
});

// ---- b) CH4 total column ----
new Chart(document.getElementById('chartB'), {
  type: 'scatter',
  data: { datasets: [
    ds(cols(ftsCh4), mRedTri, { yAxisID: 'y2' }),
    ds(cols(iasiCh4V5), mBlackSquare),
    ds(cols(iasiCh4V4), mOpenSquare)
  ] },
  options: {
    layout: { padding: { top: 32, left: 0, right: 0, bottom: 0 } },
    scales: {
      x: axisX(2007.5, 2012.5, yearTicks, null, 9, 0),
      y: axisY(3.0, 4.4, ch4ColTicks, f1, 92, 'left'),
      y2: axisY(2.84, 3.04, ftsCh4Ticks, f2, 86, 'right', TRED)
    },
    plugins: { originStyle: {
      box: [0, 182], rightColor: RED,
      xMajor: halfYearTicks, xMinor: quarterTicks, yMajor: ch4ColTicks, yMinor: ch4ColMinor,
      y2Major: ftsCh4Ticks, y2Minor: ftsCh4Minor,
      texts: [
        { t: 'CH_{4} Total Column Time Series', x: 309, y: 199, size: 14, bold: true },
        { t: 'b)', x: 101, y: 226, size: 14, align: 'left' },
        { t: 'IASI CH_{4}', x: 20, y: 282, size: 14, rot: -Math.PI / 2 },
        { t: '[E23 molec/m^{2}]', x: 41, y: 282, size: 14, rot: -Math.PI / 2 },
        { t: 'FTS CH_{4}', x: 582, y: 282, size: 14, rot: -Math.PI / 2, color: TRED },
        { t: '[E23 molec/m^{2}]', x: 599, y: 282, size: 14, rot: -Math.PI / 2, color: TRED }
      ],
      legend: [
        { x: 336, y: 227, m: Object.assign({}, mOpenSquare, { r: 5.5 }), text: 'IASI_L2 V4', tx: 350 },
        { x: 432, y: 227, m: Object.assign({}, mBlackSquare, { r: 5.5 }), text: 'IASI_L2 V5', tx: 449 }
      ]
    } }
  }
});

// ---- c) relative differences ----
new Chart(document.getElementById('chartC'), {
  type: 'scatter',
  data: { datasets: [
    ds(cols(rdCh4V5), mRdRed),
    ds(cols(rdCh4V4), mRdRedOpen),
    ds(cols(rdN2oV5), mRdBlue),
    ds(cols(rdN2oV4), mRdBlueOpen)
  ] },
  options: {
    layout: { padding: { top: 37, left: 0, right: 86, bottom: 0 } },
    scales: {
      x: axisX(2007.5, 2012.5, yearTicks, fi, 41, 7, 13),
      y: axisY(-30, 35, rdTicks, fi, 92, 'left')
    },
    plugins: { originStyle: {
      box: [0, 360], zero: true,
      xMajor: halfYearTicks, xMinor: quarterTicks, yMajor: rdTicks, yMinor: rdMinor,
      arrows: [
        { x1: 2007.52, x2: 2012.48, y: 27.5, color: TBLUE },
        { x1: 2007.52, x2: 2010.2, y: 19.4, color: TBLUE },
        { x1: 2010.24, x2: 2012.48, y: 19.4, color: TBLUE },
        { x1: 2007.52, x2: 2010.18, y: -15.3, color: TRED },
        { x1: 2010.26, x2: 2012.48, y: -15.3, color: TRED },
        { x1: 2007.52, x2: 2012.48, y: -23.3, color: TRED }
      ],
      texts: [
        { t: 'Relative Differences (RD) Time Series', x: 305, y: 370, size: 14, bold: true },
        { t: 'relative to the Inter-annual Mean', x: 306, y: 387, size: 14, bold: true },
        { t: 'c)', x: 99, y: 410, size: 14, align: 'left' },
        { t: '(IASI_L2-FTS)/FTS [%]', x: 29, y: 475, size: 14, rot: -Math.PI / 2 },
        { t: 'N_{2}O STD=5.7%', vx: 2010.1, vy: 31.4, size: 13, color: TBLUE },
        { t: 'N_{2}O V4 STD=5.6%', vx: 2008.92, vy: 23.0, size: 13, color: TBLUE },
        { t: 'N_{2}O V5 STD=2.0%', vx: 2011.42, vy: 23.0, size: 13, color: TBLUE },
        { t: 'CH_{4} V4 STD=4.3%', vx: 2009.17, vy: -19.4, size: 13, color: TRED },
        { t: 'CH_{4} V5 STD=1.4%', vx: 2011.46, vy: -19.4, size: 13, color: TRED },
        { t: 'CH_{4} STD=3.5%', vx: 2010.1, vy: -26.4, size: 13, color: TRED }
      ]
    } }
  }
});

// ---- d) N2O annual cycle ----
const dotted = { borderColor: '#333', borderWidth: 1.5, borderDash: [1.5, 5], showLine: true };
const mCycOpenCircle = { shape: 'circle', r: 5.2, fill: '#fff', stroke: '#444', bw: 1 };
const mCycBlackCircle = { shape: 'circle', r: 5.2, fill: '#000', stroke: '#000' };
const mCycBlueTri = { shape: 'triangle', r: 6.5, fill: BLUE, stroke: BLUE };
const mCycBlueOpenTri = { shape: 'triangle', r: 6.5, fill: '#fff', stroke: BLUE, bw: 1 };
new Chart(document.getElementById('chartD'), {
  type: 'scatter',
  data: { datasets: [
    ds(byMonth(n2oCycleV5), mCycBlackCircle, { showLine: true, borderColor: '#000', borderWidth: 1.3 }),
    ds(byMonth(n2oCycleV4), mCycOpenCircle, dotted),
    ds(byMonth(n2oCycleFtsTc), mCycBlueTri, { showLine: true, borderColor: BLUE, borderWidth: 2 }),
    ds(byMonth(n2oCycleFtsVmr), mCycBlueOpenTri, { showLine: true, borderColor: BLUE, borderWidth: 1.5 })
  ] },
  options: {
    layout: { padding: { top: 28, left: 0, right: 0, bottom: 0 } },
    scales: {
      x: axisX(0, 13, monthTicks, v => months[v - 1], 38, 2),
      y: axisY(-5, 5, n2oCycleTicks, fi, 68, 'left')
    },
    plugins: { originStyle: {
      box: [590, 0], zero: true,
      xMajor: monthTicks, yMajor: n2oCycleTicks, yMinor: halfSteps(n2oCycleTicks),
      texts: [
        { t: 'N_{2}O Annual Cycle relative to the Annual Mean', x: 814, y: 14, size: 14, bold: true },
        { t: 'd)', x: 669, y: 45, size: 14, align: 'left' },
        { t: '[%]', x: 625, y: 150, size: 14, rot: -Math.PI / 2 },
        { t: 'Month', x: 819, y: 282, size: 17 }
      ],
      legend: [
        { x: 683, y: 205, m: mCycOpenCircle, text: 'IASI_L2 V4', tx: 700, line: { x1: 670, x2: 697, color: '#333', width: 1.5, dash: [1.5, 4] } },
        { x: 683, y: 217.5, m: mCycBlackCircle, text: 'IASI_L2 V5', tx: 700, line: { x1: 670, x2: 697, color: '#000', width: 1.3 } },
        { x: 683, y: 230, m: mCycBlueTri, text: 'FTS TC', tx: 700, line: { x1: 670, x2: 697, color: BLUE, width: 2 } },
        { x: 683, y: 242.5, m: mCycBlueOpenTri, text: 'FTS VMR (10-14 km)', tx: 700, line: { x1: 670, x2: 697, color: BLUE, width: 1.5 } }
      ]
    } }
  }
});

// ---- e) CH4 annual cycle ----
const mCycOpenSquare = { shape: 'rect', r: 6.8, fill: '#fff', stroke: '#555', bw: 1 };
const mCycBlackSquare = { shape: 'rect', r: 6.8, fill: '#000', stroke: '#000' };
const mCycRedTri = { shape: 'triangle', r: 7, rot: 90, fill: RED, stroke: RED };
const mCycRedOpenTri = { shape: 'triangle', r: 7, rot: 90, fill: '#fff', stroke: RED, bw: 1 };
new Chart(document.getElementById('chartE'), {
  type: 'scatter',
  data: { datasets: [
    ds(byMonth(ch4CycleV5), mCycBlackSquare, { showLine: true, borderColor: '#000', borderWidth: 1.2 }),
    ds(byMonth(ch4CycleV4), mCycOpenSquare, dotted),
    ds(byMonth(ch4CycleFtsTc), mCycRedTri, { showLine: true, borderColor: RED, borderWidth: 2 }),
    ds(byMonth(ch4CycleFtsVmr), mCycRedOpenTri, { showLine: true, borderColor: RED, borderWidth: 1.5 })
  ] },
  options: {
    layout: { padding: { top: 28, left: 0, right: 0, bottom: 0 } },
    scales: {
      x: axisX(0, 13, monthTicks, v => months[v - 1], 43, 4),
      y: axisY(-5, 3, ch4CycleTicks, fi, 69, 'left')
    },
    plugins: { originStyle: {
      box: [590, 295], zero: true,
      xMajor: monthTicks, yMajor: ch4CycleTicks, yMinor: halfSteps(ch4CycleTicks),
      texts: [
        { t: 'CH_{4} Annual Cycle relative to the Annual Mean', x: 815, y: 305, size: 14, bold: true },
        { t: 'e)', x: 668, y: 337, size: 14, align: 'left' },
        { t: '[%]', x: 626, y: 444, size: 14, rot: -Math.PI / 2 },
        { t: 'Month', x: 818, y: 583, size: 17 }
      ],
      legend: [
        { x: 686, y: 499, m: mCycOpenSquare, text: 'IASI_L2 V4', tx: 701, line: { x1: 672, x2: 698, color: '#333', width: 1.5, dash: [1.5, 4] } },
        { x: 686, y: 511.5, m: mCycBlackSquare, text: 'IASI_L2 V5', tx: 701, line: { x1: 672, x2: 698, color: '#000', width: 1.2 } },
        { x: 686, y: 524, m: mCycRedTri, text: 'FTS TC', tx: 701, line: { x1: 672, x2: 698, color: RED, width: 2 } },
        { x: 686, y: 536.5, m: mCycRedOpenTri, text: 'FTS VMR (10-14 km)', tx: 701, line: { x1: 672, x2: 698, color: RED, width: 1.5 } }
      ]
    } }
  }
});
</script>
</body>
</html>
